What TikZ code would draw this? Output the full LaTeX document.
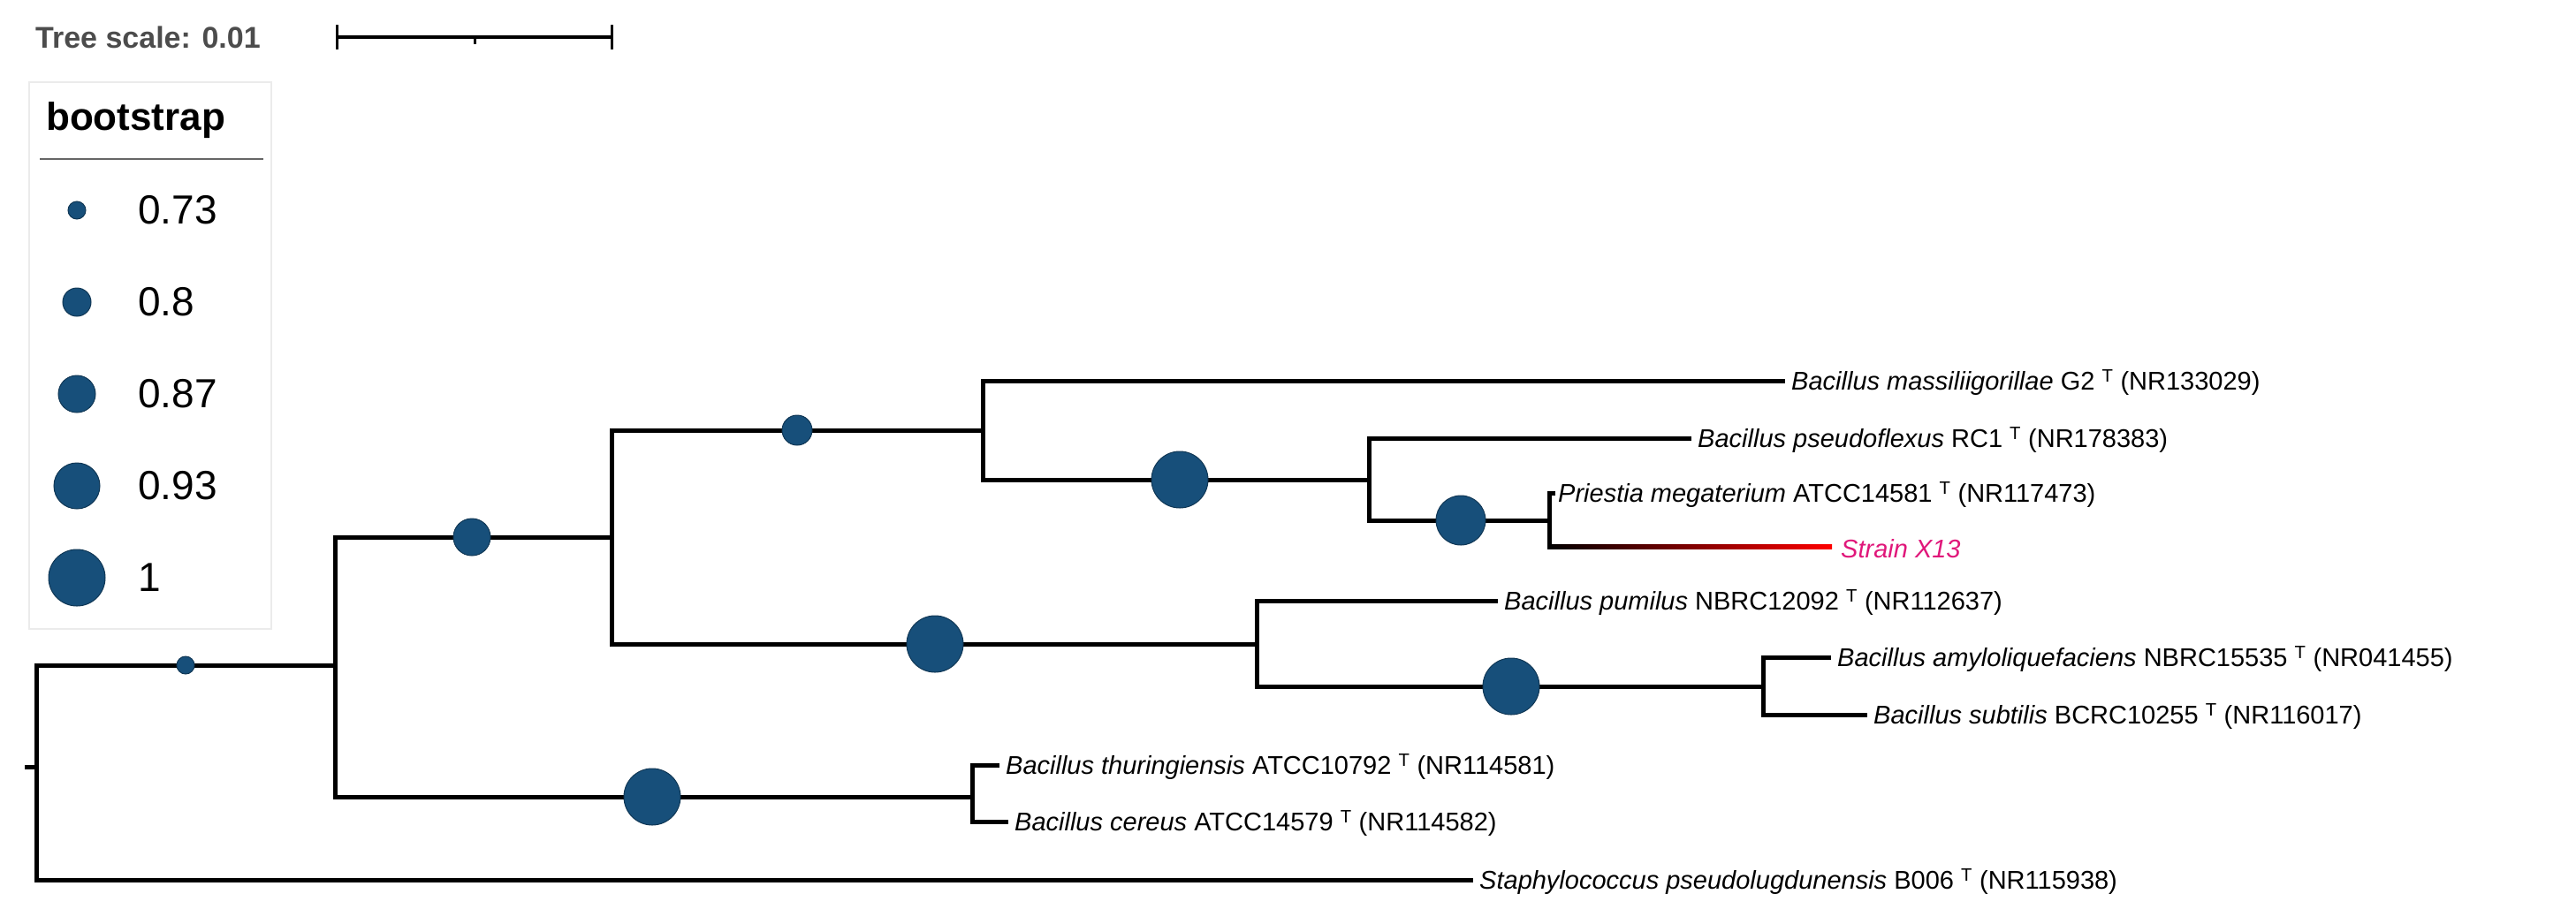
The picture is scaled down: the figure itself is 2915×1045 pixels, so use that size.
\documentclass[tikz,border=0pt]{standalone}
\usepackage{fontspec}
\setmainfont{Liberation Sans}
\begin{document}
\begin{tikzpicture}[x=1pt,y=-1pt,
  br/.style={line width=5pt,line cap=rect},
  bs/.style={circle,fill=bsblue,draw=bsblue!70!black,line width=1pt,inner sep=0pt},
  lab/.style={anchor=west,font=\fontsize{29}{34}\selectfont,inner sep=0pt},
  leg/.style={anchor=west,font=\fontsize{46}{52}\selectfont,inner sep=0pt}]
\definecolor{bsblue}{HTML}{174F7A}
\definecolor{strain}{HTML}{E0177A}
\useasboundingbox (0,0) rectangle (2915,1045);
% scale bar
\node[anchor=west,font=\bfseries\fontsize{34}{40}\selectfont,text=black!70,inner sep=0pt] (ts) at (40,42) {Tree scale: 0.01};
\coordinate (s1) at (381,42); \coordinate (s2) at (692,42); \coordinate (sm) at (537,42);
\draw[line width=4pt] (s1) -- (s2);
\draw[line width=3pt] (381,28) -- (381,56) (692,28) -- (692,56) (537,42) -- (537,50);
% legend
\draw[black!8,fill=white,line width=1.5pt] (33,93) rectangle (307,712);
\node[anchor=west,font=\bfseries\fontsize{44}{50}\selectfont,inner sep=0pt] (lt) at (52,136) {bootstrap};
\draw[black!60,line width=2pt] (45,180) -- (298,180);
\foreach \y/\r/\t in {238/10/0.73,342/16/0.8,446/21/0.87,550/26/0.93,654/32/1}{
  \node[bs,minimum size=2*\r pt] at (87,\y) {};
  \node[leg] at (156,\y) {\t};
}
% tree coordinates
\coordinate (R) at (41,753); \coordinate (R2) at (41,996);
\draw[br] (30,868) -- (41,868);
\draw[br] (R) -- (R2);
\draw[br] (R) -- (379,753);
\draw[br] (R2) -- (1664,996);
% A
\draw[br] (379,608) -- (379,902);
\draw[br] (379,608) -- (692,608);
\draw[br] (379,902) -- (1100,902);
% B
\draw[br] (692,487) -- (692,729);
\draw[br] (692,487) -- (1112,487);
\draw[br] (692,729) -- (1422,729);
% C
\draw[br] (1112,431) -- (1112,543);
\draw[br] (1112,431) -- (2017,431);
\draw[br] (1112,543) -- (1549,543);
% D
\draw[br] (1549,496) -- (1549,589);
\draw[br] (1549,496) -- (1911,496);
\draw[br] (1549,589) -- (1753,589);
% E
\draw[br] (1753,558) -- (1753,619);
\draw[br] (1753,558) -- (1757,558);
\fill[left color=black,right color=red] (1753,616.5) rectangle (2073,621.5);
% F
\draw[br] (1422,680) -- (1422,777);
\draw[br] (1422,680) -- (1692,680);
\draw[br] (1422,777) -- (1995,777);
% G
\draw[br] (1995,744) -- (1995,809);
\draw[br] (1995,744) -- (2069,744);
\draw[br] (1995,809) -- (2110,809);
% H
\draw[br] (1100,866) -- (1100,930);
\draw[br] (1100,866) -- (1128,866);
\draw[br] (1100,930) -- (1138,930);
% bootstrap circles
\node[bs,minimum size=20pt] (cR) at (210,753) {};
\node[bs,minimum size=42pt] (cB) at (534,608) {};
\node[bs,minimum size=34pt] (cC) at (902,487) {};
\node[bs,minimum size=64pt] (cD) at (1335,543) {};
\node[bs,minimum size=56pt] (cE) at (1653,589) {};
\node[bs,minimum size=64pt] (cF) at (1058,729) {};
\node[bs,minimum size=64pt] (cG) at (1710,777) {};
\node[bs,minimum size=64pt] (cH) at (738,902) {};
% labels
\node[lab] (l1) at (2027,433) {\textit{Bacillus massiliigorillae} G2 \textsuperscript{T} (NR133029)};
\node[lab] (l2) at (1921,498) {\textit{Bacillus pseudoflexus} RC1 \textsuperscript{T} (NR178383)};
\node[lab] (l3) at (1763,560) {\textit{Priestia megaterium} ATCC14581 \textsuperscript{T} (NR117473)};
\node[lab,text=strain] (l4) at (2083,621) {\textit{Strain X13}};
\node[lab] (l5) at (1702,682) {\textit{Bacillus pumilus} NBRC12092 \textsuperscript{T} (NR112637)};
\node[lab] (l6) at (2079,746) {\textit{Bacillus amyloliquefaciens} NBRC15535 \textsuperscript{T} (NR041455)};
\node[lab] (l7) at (2120,811) {\textit{Bacillus subtilis} BCRC10255 \textsuperscript{T} (NR116017)};
\node[lab] (l8) at (1138,868) {\textit{Bacillus thuringiensis} ATCC10792 \textsuperscript{T} (NR114581)};
\node[lab] (l9) at (1148,932) {\textit{Bacillus cereus} ATCC14579 \textsuperscript{T} (NR114582)};
\node[lab] (l10) at (1674,998) {\textit{Staphylococcus pseudolugdunensis} B006 \textsuperscript{T} (NR115938)};
\end{tikzpicture}
\end{document}
